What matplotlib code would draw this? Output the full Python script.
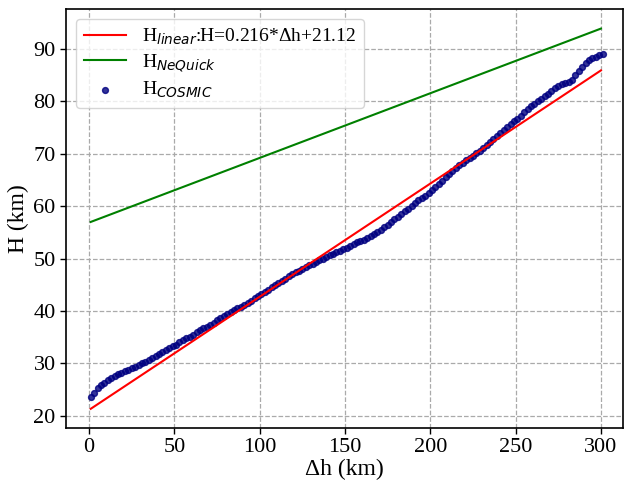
import numpy as np
import matplotlib
matplotlib.use("Agg")
import matplotlib.pyplot as plt

plt.rcParams["font.family"] = ["Liberation Serif", "DejaVu Sans"]

# Δh (km) для точек COSMIC
dh_cosmic = np.arange(1, 302, 2)
h_cosmic = [
    23.6, 24.4, 25.3, 25.8, 26.3, 26.8, 27.2, 27.6, 27.9, 28.2,
    28.5, 28.8, 29.1, 29.4, 29.7, 30.0, 30.3, 30.7, 31.0, 31.4,
    31.8, 32.2, 32.6, 33.0, 33.3, 33.6, 34.0, 34.4, 34.8, 35.1,
    35.5, 35.9, 36.3, 36.7, 37.0, 37.4, 37.8, 38.2, 38.6, 39.0,
    39.4, 39.8, 40.1, 40.5, 40.8, 41.2, 41.6, 42.0, 42.4, 42.8,
    43.2, 43.6, 44.1, 44.5, 45.0, 45.4, 45.8, 46.2, 46.6, 47.0,
    47.4, 47.7, 48.0, 48.4, 48.7, 49.0, 49.4, 49.7, 50.0, 50.3,
    50.6, 50.9, 51.2, 51.5, 51.8, 52.1, 52.5, 52.8, 53.1, 53.4,
    53.6, 53.9, 54.3, 54.7, 55.1, 55.5, 56.0, 56.5, 57.0, 57.5,
    58.0, 58.5, 59.0, 59.5, 60.0, 60.6, 61.1, 61.5, 62.0, 62.5,
    63.1, 63.7, 64.3, 64.9, 65.6, 66.2, 66.8, 67.3, 67.8, 68.3,
    68.8, 69.2, 69.6, 70.1, 70.6, 71.1, 71.7, 72.3, 72.8, 73.4,
    73.9, 74.5, 75.1, 75.7, 76.2, 76.7, 77.3, 77.9, 78.5, 79.1,
    79.5, 80.0, 80.5, 81.0, 81.5, 82.0, 82.5, 83.0, 83.4, 83.6,
    83.7, 84.1, 85.0, 85.8, 86.6, 87.3, 87.9, 88.3, 88.5, 88.8,
    89.0,
]

# Линии: линейная регрессия и NeQuick (концы отрезков)
dh_line = [1, 300]
h_linear = [0.216 * d + 21.12 for d in dh_line]
h_nequick = [57.0, 93.9]

xticks = [0, 50, 100, 150, 200, 250, 300]
yticks = [20, 30, 40, 50, 60, 70, 80, 90]

fig = plt.figure(figsize=(6.25, 4.84), dpi=100)
ax = fig.add_axes([0.1056, 0.116, 0.8914, 0.865])

ax.plot(dh_line, h_linear, color="red", linewidth=1.5,
        label=r"H$_{linear}$:H=0.216*Δh+21.12", zorder=3)
ax.plot(dh_line, h_nequick, color="green", linewidth=1.5,
        label=r"H$_{NeQuick}$", zorder=3)
ax.scatter(dh_cosmic, h_cosmic, s=18, color="navy", alpha=0.8,
           label=r"H$_{COSMIC}$", zorder=2)

ax.set_xlim(-13.5, 313)
ax.set_ylim(17.7, 97.6)
ax.set_xticks(xticks)
ax.set_yticks(yticks)
ax.tick_params(labelsize=16, length=4, width=1)
ax.grid(True, linestyle="--", color="#aaaaaa", linewidth=0.9)
ax.set_axisbelow(True)

ax.set_xlabel("Δh (km)", fontsize=17, labelpad=1)
ax.set_ylabel("H (km)", fontsize=17, labelpad=3)

for s in ax.spines.values():
    s.set_linewidth(1.2)

ax.legend(loc="upper left", fontsize=14, frameon=True, framealpha=0.8,
          handlelength=2.2, borderpad=0.4, labelspacing=0.3)

fig.savefig("out.png", dpi=100)
